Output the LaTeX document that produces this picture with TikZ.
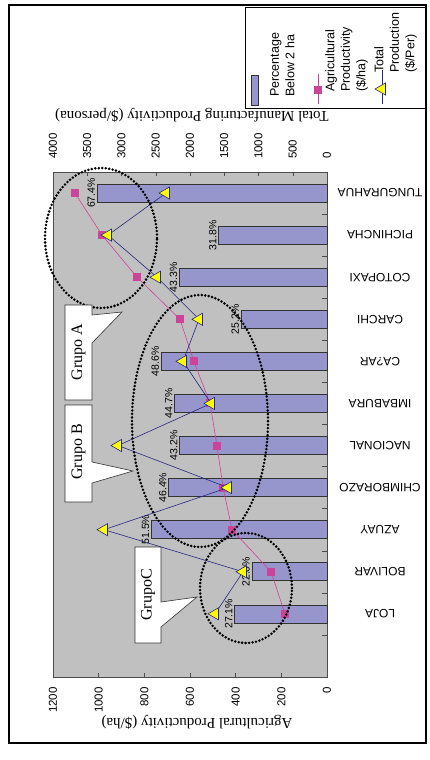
\documentclass[tikz,border=0pt]{standalone}
\usepackage{fontspec}
\setmainfont{Liberation Serif}
\setsansfont{Liberation Sans}
\usetikzlibrary{shapes.geometric}
\definecolor{plotgray}{RGB}{192,192,192}
\definecolor{barblue}{RGB}{150,150,205}
\definecolor{agrmag}{RGB}{204,68,153}
\definecolor{totnavy}{RGB}{40,40,128}
\definecolor{markyel}{RGB}{255,255,0}

\begin{document}
\begin{tikzpicture}
[x=1pt,y=-1pt,
 bar/.style={draw=black!80,fill=barblue,line width=0.6pt},
 pct/.style={font=\sffamily\fontsize{10.5}{11}\selectfont,rotate=90,anchor=south,inner sep=1pt},
 cat/.style={font=\sffamily\fontsize{12}{13}\selectfont,rotate=180},
 ticklab/.style={font=\sffamily\fontsize{11.5}{12}\selectfont,rotate=90,inner sep=0pt},
 axtitle/.style={font=\fontsize{15}{16}\selectfont,rotate=180},
 sqmark/.style={shape=rectangle,fill=agrmag,minimum size=8pt,inner sep=0pt},
 trimark/.style={shape=regular polygon,regular polygon sides=3,shape border rotate=90,
   draw=totnavy,fill=markyel,minimum size=14pt,inner sep=0pt,line width=0.6pt},
 agrline/.style={agrmag,line width=0.6pt},
 totline/.style={totnavy,line width=0.6pt},
 group/.style={draw=black,dash pattern=on 0pt off 3.5pt,line cap=round,line width=2.8pt},
 callout/.style={draw=black!80,fill=white,line width=0.6pt},
 grp/.style={font=\fontsize{16}{17}\selectfont,rotate=90},
 legtext/.style={font=\sffamily\fontsize{12.5}{15.5}\selectfont,rotate=90,align=left,
   anchor=north west,inner sep=0pt}]

\useasboundingbox (0,0) rectangle (430,760);
\draw [line width=1.3pt] (9,5) rectangle (426,743);

% plot area and axes
\draw [fill=plotgray,draw=black!70,line width=0.8pt] (53,172) rectangle (327,677);
\foreach \k in {1,...,11}
	\draw [black!70] (327,{172+42.08*\k}) -- ++(-5,0);
\foreach \k in {0,...,8} {
	\pgfmathtruncatemacro\v{500*\k}
	\draw [black!70] ({327-34.25*\k},172) -- ++(0,4);
	\node (top\k) [ticklab,anchor=west] at ({327-34.25*\k},159) {\v};
}
\foreach \k in {0,...,6} {
	\pgfmathtruncatemacro\v{200*\k}
	\draw [black!70] ({327-45.667*\k},677) -- ++(0,-4);
	\node (bot\k) [ticklab,anchor=east] at ({327-45.667*\k},687) {\v};
}
\node (tottitle) [axtitle] at (192,115) {Total Manufacturing Productivity (\$/persona)};
\node (agrtitle) [axtitle] at (197,722) {Agricultural Productivity (\$/ha)};

% bars, categories and data points
\foreach \i/\lab/\pct/\agr/\tot in {1/TUNGURAHUA/67.4/1104/2350,2/PICHINCHA/31.8/985/3197,
	3/COTOPAXI/43.3/832/2482,4/CARCHI/25.2/644/1869,5/CA?AR/48.6/583/2102,
	6/IMBABURA/44.7/512/1693,7/NACIONAL/43.2/482/3051,8/CHIMBORAZO/46.4/455/1445,
	9/AZUAY/51.5/416/3255,10/BOLIVAR/22.0/245/1226,11/LOJA/27.1/184/1635} {
	\pgfmathsetmacro\yc{172+42.08*(\i-0.5)}
	\draw [bar] (327,{\yc-9}) rectangle ({327-3.41*\pct},{\yc+9});
	\node (c\i) [cat] at (380,\yc) {\lab};
	\node (p\i) [pct] at ({326-3.41*\pct},\yc) {\pct\%};
	\coordinate (a\i) at ({327-0.22833*\agr},\yc);
	\coordinate (t\i) at ({327-0.0685*\tot},\yc);
}
\draw [agrline] (a1) \foreach \i in {2,...,11} {-- (a\i)};
\foreach \i in {1,...,11}
	\node (sq\i) [sqmark] at (a\i) {};
\draw [totline] (t1) \foreach \i in {2,...,11} {-- (t\i)};
\foreach \i in {1,...,11}
	\node (tr\i) [trimark] at (t\i) {};

% groups
\draw [group] (101,238) ellipse [x radius=56pt,y radius=70pt];
\draw [group] (200,421) ellipse [x radius=68pt,y radius=126pt];
\draw [group] (246,588) ellipse [x radius=46pt,y radius=55pt];

\draw [callout] (65,305) -- (92,305) -- (92,315) -- (122,312) -- (92,343)
	-- (92,400) -- (65,400) -- cycle;
\node (grpA) [grp] at (78.5,352) {Grupo A};
\draw [callout] (65,405) -- (92,405) -- (92,462) -- (133,471) -- (92,483)
	-- (92,502) -- (65,502) -- cycle;
\node (grpB) [grp] at (78.5,452) {Grupo B};
\draw [callout] (135,547) -- (161,547) -- (161,602) -- (197,597) -- (161,627)
	-- (161,643) -- (135,643) -- cycle;
\node (grpC) [grp] at (148,595) {GrupoC};

% legend
\draw [fill=white,line width=0.8pt] (245,7) rectangle (425,108);
\draw [bar] (251,75) rectangle (258,105);
\node (leg1) [legtext] at (270,97) {Percentage\\Below 2 ha};
\draw [agrline] (318,74) -- (318,104);
\node (legsq) [sqmark] at (318,90) {};
\node (leg2) [legtext] at (325,92) {Agricultural\\Productivity\\(\$/ha)};
\draw [totline] (382,70) -- (382,104);
\node (legtr) [trimark] at (382,89) {};
\node (leg3) [legtext] at (374,73) {Total\\Production\\(\$/Per)};

\end{tikzpicture}
\end{document}
